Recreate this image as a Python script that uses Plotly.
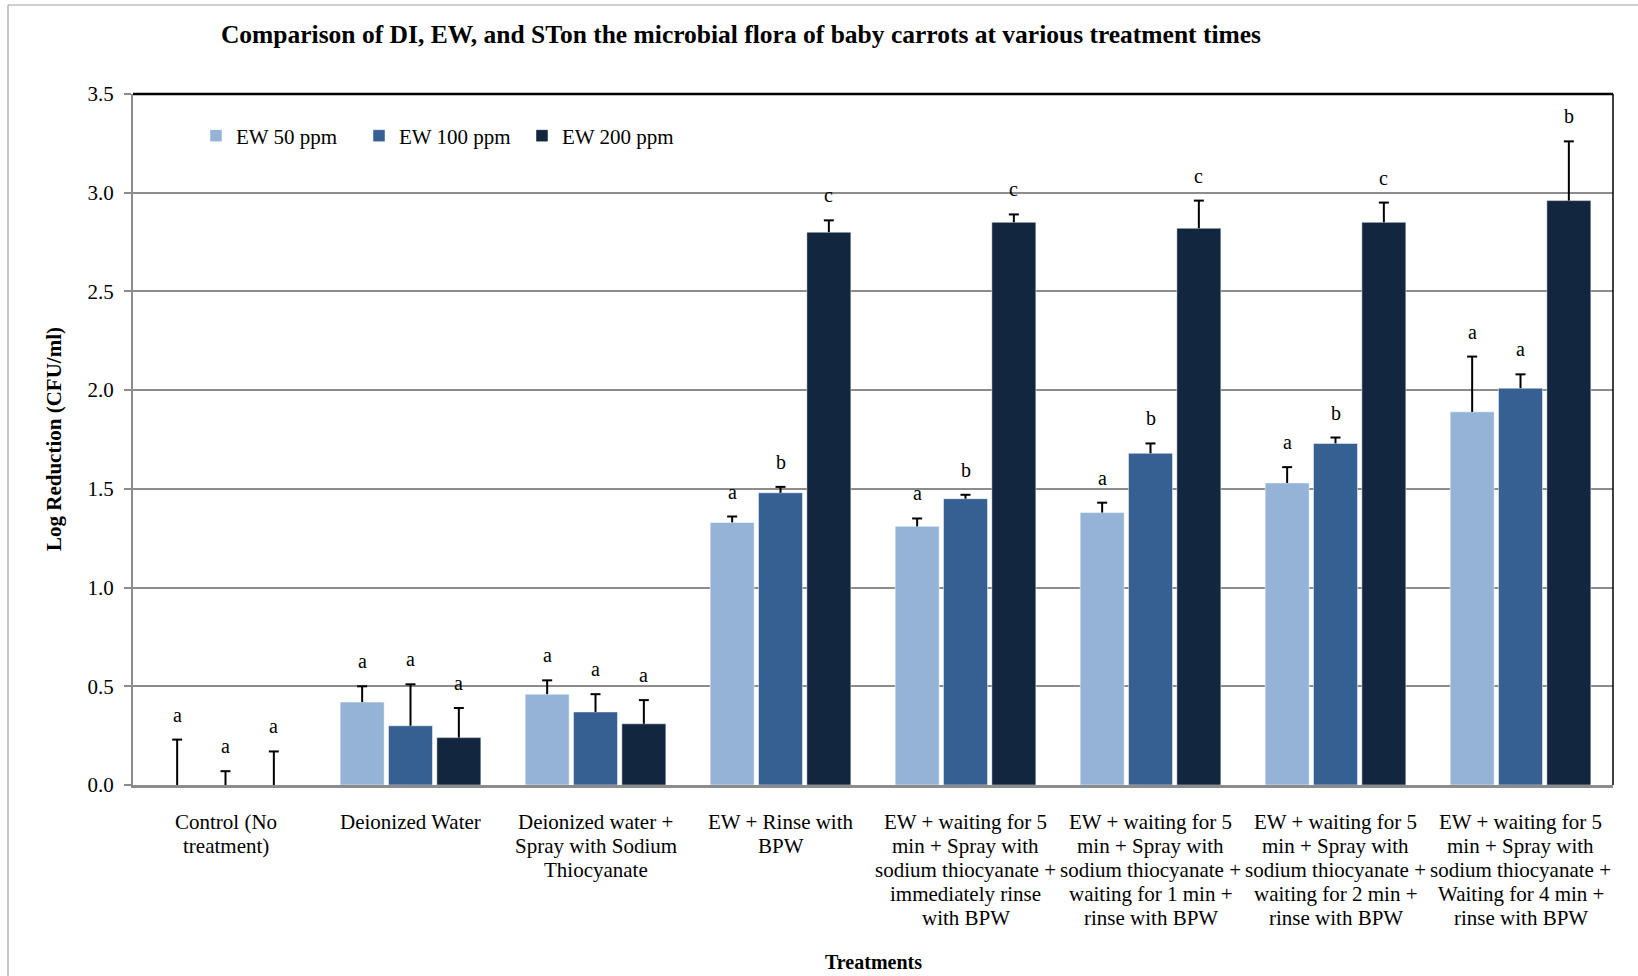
import plotly.graph_objects as go

# Treatment categories (label lines separated by <br>)
categories = [
    "Control (No<br>treatment)",
    "Deionized Water",
    "Deionized water +<br>Spray with Sodium<br>Thiocyanate",
    "EW + Rinse with<br>BPW",
    "EW + waiting for 5<br>min + Spray with<br>sodium thiocyanate +<br>immediately rinse<br>with BPW",
    "EW + waiting for 5<br>min + Spray with<br>sodium thiocyanate +<br>waiting for 1 min +<br>rinse with BPW",
    "EW + waiting for 5<br>min + Spray with<br>sodium thiocyanate +<br>waiting for 2 min +<br>rinse with BPW",
    "EW + waiting for 5<br>min + Spray with<br>sodium thiocyanate +<br>Waiting for 4 min +<br>rinse with BPW",
]

series_names = ["EW 50 ppm", "EW 100 ppm", "EW 200 ppm"]

# Mean log reductions (CFU/ml)
ew50 = [0.00, 0.42, 0.46, 1.33, 1.31, 1.38, 1.53, 1.89]
ew100 = [0.00, 0.30, 0.37, 1.48, 1.45, 1.68, 1.73, 2.01]
ew200 = [0.00, 0.24, 0.31, 2.80, 2.85, 2.82, 2.85, 2.96]

# Standard deviations (upper error bars)
ew50_err = [0.23, 0.08, 0.07, 0.03, 0.04, 0.05, 0.08, 0.28]
ew100_err = [0.07, 0.21, 0.09, 0.03, 0.02, 0.05, 0.03, 0.07]
ew200_err = [0.17, 0.15, 0.12, 0.06, 0.04, 0.14, 0.10, 0.30]

# Significance letters
ew50_sig = ["a", "a", "a", "a", "a", "a", "a", "a"]
ew100_sig = ["a", "a", "a", "b", "b", "b", "b", "a"]
ew200_sig = ["a", "a", "a", "c", "c", "c", "c", "b"]

colors = ["#95B3D7", "#376092", "#12263F"]

W, H = 1638, 976
ML, MR, MT, MB = 133, 25, 94, 191
BARGAP, GROUPGAP = 0.216, 0.09
FONT = "Liberation Serif, Times New Roman, serif"
CAP_HALF = 5  # px, half width of error bar caps

values = [ew50, ew100, ew200]
errors = [ew50_err, ew100_err, ew200_err]
sigs = [ew50_sig, ew100_sig, ew200_sig]

plot_w = W - ML - MR
plot_h = H - MT - MB
cat_w = plot_w / len(categories)
slot_frac = (1 - BARGAP) / 3          # bar slot, in category units

fig = go.Figure()
for name, vals, errs, col in zip(series_names, values, errors, colors):
    fig.add_trace(go.Bar(
        name=name,
        x=categories,
        y=vals,
        marker=dict(color=col, line=dict(color="rgba(255,255,255,0.6)", width=0.8)),
        error_y=dict(type="data", array=errs, arrayminus=[0] * len(errs),
                     symmetric=False, color="black", thickness=2, width=0),
    ))

# Caps on top of the error bars and significance letters above them
for k, (vals, errs, letters) in enumerate(zip(values, errors, sigs)):
    off = (k - 1) * slot_frac
    for cat, v, e, s in zip(categories, vals, errs, letters):
        fig.add_shape(
            type="line", xref="x", yref="y",
            x0=cat, x1=cat, y0=v + e, y1=v + e,
            x0shift=off - CAP_HALF / cat_w, x1shift=off + CAP_HALF / cat_w,
            line=dict(color="black", width=2),
        )
        fig.add_annotation(
            x=cat, y=v + e, text=s, showarrow=False,
            xshift=off * cat_w, yshift=25, yanchor="middle",
            font=dict(family=FONT, size=20, color="black"),
        )

# Category labels, one annotation per line for tight line spacing
LINE_H = 24
for cat in categories:
    for i, line in enumerate(cat.split("<br>")):
        fig.add_annotation(
            x=cat, xref="x", y=0, yref="paper", text=line, showarrow=False,
            yanchor="middle", yshift=-(37 + i * LINE_H),
            font=dict(family=FONT, size=21, color="black"),
        )

# Axis titles
fig.add_annotation(
    x=(873 - ML) / plot_w, xref="paper", y=-(962 - (H - MB)) / plot_h, yref="paper",
    text="<b>Treatments</b>", showarrow=False, yanchor="middle", xanchor="center",
    font=dict(family=FONT, size=20, color="black"),
)
fig.add_annotation(
    x=(54 - ML) / plot_w, xref="paper", y=(H - MB - 439) / plot_h, yref="paper",
    text="<b>Log Reduction (CFU/ml)</b>", showarrow=False, textangle=-90,
    xanchor="center", yanchor="middle",
    font=dict(family=FONT, size=21, color="black"),
)

# Plot frame: black top and right edges
fig.add_shape(type="line", xref="paper", yref="paper", x0=0, x1=1, y0=1, y1=1,
              line=dict(color="black", width=2.5))
fig.add_shape(type="line", xref="paper", yref="paper", x0=1, x1=1, y0=0, y1=1,
              line=dict(color="black", width=1.5))

# Outer chart border (gray), open to the right and bottom of the page
fig.add_shape(type="line", xref="paper", yref="paper",
              x0=(8 - ML) / plot_w, x1=(W + 20 - ML) / plot_w,
              y0=1 + (MT - 5) / plot_h, y1=1 + (MT - 5) / plot_h,
              line=dict(color="#A0A0A0", width=1.2))
fig.add_shape(type="line", xref="paper", yref="paper",
              x0=(8 - ML) / plot_w, x1=(8 - ML) / plot_w,
              y0=1 + (MT - 5) / plot_h, y1=-(H + 20 - (H - MB)) / plot_h,
              line=dict(color="#A0A0A0", width=1.2))

fig.update_layout(
    width=W, height=H,
    margin=dict(l=ML, r=MR, t=MT, b=MB, autoexpand=False),
    paper_bgcolor="white", plot_bgcolor="white",
    barmode="group", bargap=BARGAP, bargroupgap=GROUPGAP,
    font=dict(family=FONT, size=20, color="black"),
    title=dict(
        text="<b>Comparison of DI, EW, and STon the microbial flora of baby carrots at various treatment times</b>",
        x=741 / W, xanchor="center", y=1 - 34 / H, yanchor="middle",
        font=dict(family=FONT, size=25.5, color="black"),
    ),
    legend=dict(
        orientation="h", x=(196 - ML) / plot_w, xanchor="left",
        y=1 - 42 / plot_h, yanchor="middle",
        font=dict(family=FONT, size=21, color="black"),
        bgcolor="rgba(0,0,0,0)", itemwidth=30, traceorder="normal",
        entrywidth=118, entrywidthmode="pixels",
    ),
    showlegend=True,
)

fig.update_yaxes(
    range=[0, 3.5], dtick=0.5, tickformat=".1f",
    showgrid=True, gridcolor="#8C8C8C", gridwidth=1.5,
    showline=True, linecolor="#8C8C8C", linewidth=2,
    ticks="outside", ticklen=7, tickcolor="#8C8C8C", tickwidth=1.5,
    zeroline=False, ticklabelstandoff=6,
    tickfont=dict(family=FONT, size=21, color="black"),
)
fig.update_xaxes(
    showline=True, linecolor="#8C8C8C", linewidth=3,
    ticks="", showgrid=False, showticklabels=False,
)

fig.write_html("out.html")
